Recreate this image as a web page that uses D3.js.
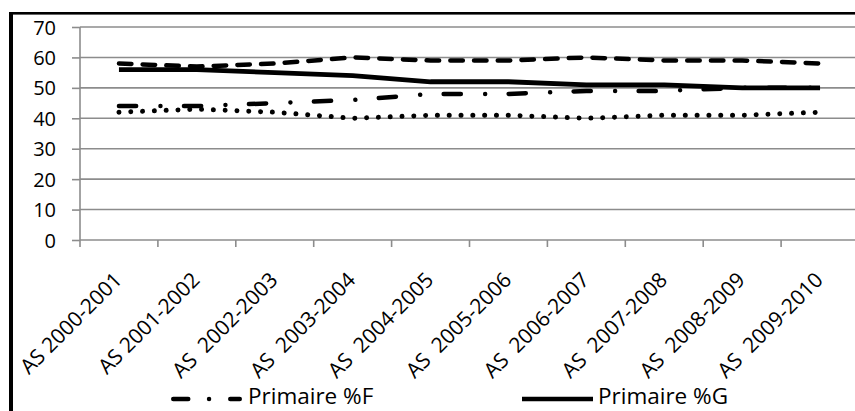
<!DOCTYPE html>
<html>
<head>
<meta charset="utf-8">
<script src="https://cdn.jsdelivr.net/npm/d3@7/dist/d3.min.js"></script>
<style>
  html, body { margin: 0; padding: 0; background: #fff; }
  svg { display: block; }
  text { font-family: "Open Sans", sans-serif; fill: #000; }
</style>
</head>
<body>
<svg id="chart" width="855" height="411"></svg>
<script>
// ---- data ----
const categories = ["AS 2000-2001", "AS 2001-2002", "AS  2002-2003", "AS  2003-2004", "AS  2004-2005",
                    "AS  2005-2006", "AS  2006-2007", "AS  2007-2008", "AS  2008-2009", "AS  2009-2010"];
const primaireF = [44, 44, 45, 46, 48, 48, 49, 49, 50, 50];
const primaireG = [56, 56, 55, 54, 52, 52, 51, 51, 50, 50];
const serie3 = [58, 57, 58, 60, 59, 59, 60, 59, 59, 58];
const serie4 = [42, 43, 42, 40, 41, 41, 40, 41, 41, 42];
const yTicks = [0, 10, 20, 30, 40, 50, 60, 70];
const legendNames = ["Primaire %F", "Primaire %G"];

const series = [
  { name: legendNames[0], values: primaireF, dash: "17.2,24.3,0.01,23.5", legendDash: "15,20.8,0.01,21.2", width: 4.5 },
  { name: legendNames[1], values: primaireG, dash: null, legendDash: null, width: 4.8 },
  { name: "Série 3", values: serie3, dash: "12.5,11.2", width: 4.5 },
  { name: "Série 4", values: serie4, dash: "0.01,11.8", width: 5 }
];

const svg = d3.select("#chart");

// frame (cropped border)
svg.append("rect").attr("x", 9).attr("y", 12).attr("width", 846).attr("height", 2.6).attr("fill", "#000");
svg.append("rect").attr("x", 9).attr("y", 12).attr("width", 4).attr("height", 399).attr("fill", "#000");

const x = d3.scaleBand().domain(categories).range([80, 859]);
const y = d3.scaleLinear().domain([0, 70]).range([240, 27]);

const gridColor = "#8c8c8c";

// gridlines
svg.append("g").selectAll("line").data(yTicks.filter(d => d > 0)).join("line")
  .attr("x1", 80).attr("x2", 859)
  .attr("y1", d => y(d)).attr("y2", d => y(d))
  .attr("stroke", gridColor).attr("stroke-width", 1.6);

// y axis
const yAxis = svg.append("g").attr("transform", "translate(80,0)")
  .call(d3.axisLeft(y).tickValues(yTicks).tickSize(8).tickPadding(0).tickFormat(d3.format("d")));
yAxis.select(".domain").attr("stroke", gridColor).attr("stroke-width", 1.6).attr("d", "M0,27V247");
yAxis.selectAll(".tick line").attr("stroke", gridColor).attr("stroke-width", 1.6);
yAxis.selectAll(".tick text").attr("x", -24).attr("dy", "0.35em")
  .style("font-family", "'Open Sans', sans-serif").style("font-size", "20px").attr("fill", "#000");

// x axis
const xAxis = svg.append("g").attr("transform", "translate(0,240)");
xAxis.append("line").attr("x1", 80).attr("x2", 859).attr("y1", 0).attr("y2", 0)
  .attr("stroke", gridColor).attr("stroke-width", 1.6);
xAxis.selectAll("line.tk").data(categories).join("line").attr("class", "tk")
  .attr("x1", d => x(d) + x.bandwidth()).attr("x2", d => x(d) + x.bandwidth())
  .attr("y1", 0).attr("y2", 7).attr("stroke", gridColor).attr("stroke-width", 1.6);
xAxis.selectAll("text").data(categories).join("text")
  .attr("transform", d => `translate(${x(d) + x.bandwidth() / 2 - 1},${36}) rotate(-45)`)
  .attr("text-anchor", "end").attr("dy", "0.35em")
  .style("font-size", "21px").style("white-space", "pre")
  .text(d => d);

// lines
const line = d3.line().x((d, i) => x(categories[i]) + x.bandwidth() / 2).y(d => y(d));
svg.append("g").selectAll("path").data(series).join("path")
  .attr("d", d => line(d.values))
  .attr("fill", "none").attr("stroke", "#000")
  .attr("stroke-width", d => d.width)
  .attr("stroke-linecap", d => d.dash ? "round" : "butt")
  .attr("stroke-linejoin", "round")
  .attr("stroke-dasharray", d => d.dash);

// legend (only the visible first row)
const legendPos = [{ x: 171, tx: 248 }, { x: 522, tx: 598 }];
const lg = svg.append("g").selectAll("g").data(series.slice(0, 2)).join("g");
lg.append("line")
  .attr("x1", (d, i) => legendPos[i].x + (d.legendDash ? 2.25 : 0))
  .attr("x2", (d, i) => legendPos[i].x + 71 - (d.legendDash ? 2.25 : 0))
  .attr("y1", 399).attr("y2", 399)
  .attr("stroke", "#000").attr("stroke-width", 4.5)
  .attr("stroke-linecap", d => d.legendDash ? "round" : "butt")
  .attr("stroke-dasharray", d => d.legendDash);
lg.append("text")
  .attr("x", (d, i) => legendPos[i].tx).attr("y", 396).attr("dy", "0.35em")
  .style("font-size", "22.5px")
  .text(d => d.name);
</script>
</body>
</html>
